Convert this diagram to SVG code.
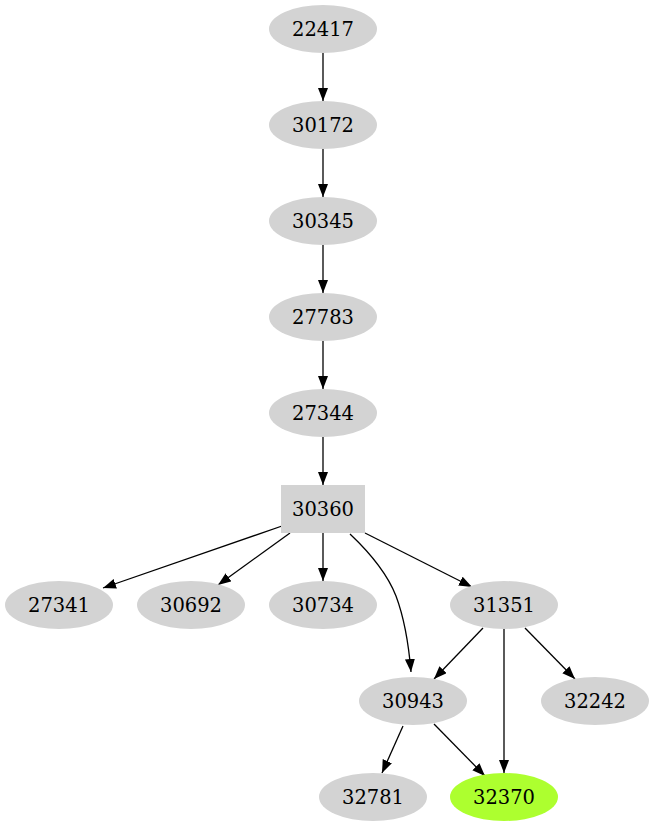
<svg xmlns="http://www.w3.org/2000/svg" width="654" height="827" viewBox="0 0 654 827">
<style>
.n ellipse,.n rect{fill:#d3d3d3;stroke:none}
.g ellipse{fill:#adff2f}
text{font-family:"DejaVu Serif","Liberation Serif",serif;font-size:19.5px;text-anchor:middle;fill:#000}
.e path{fill:none;stroke:#000;stroke-width:1.3}
</style>
<defs>
<marker id="a" markerUnits="userSpaceOnUse" markerWidth="14" markerHeight="11" refX="13" refY="5" orient="auto">
<path d="M0,0 L13,5 L0,10 z" fill="#000"/>
</marker>
</defs>
<rect width="654" height="827" fill="#fff"/>
<g class="e">
<path d="M323,53 L323,101" marker-end="url(#a)"/>
<path d="M323,149 L323,197" marker-end="url(#a)"/>
<path d="M323,245 L323,293" marker-end="url(#a)"/>
<path d="M323,341 L323,389" marker-end="url(#a)"/>
<path d="M323,437 L323,485" marker-end="url(#a)"/>
<path d="M282,526 L103,588" marker-end="url(#a)"/>
<path d="M290,533 L218,585" marker-end="url(#a)"/>
<path d="M323,533 L323,581" marker-end="url(#a)"/>
<path d="M350,534 C368,551 387,573 396,596 C405,620 409,648 411,672" marker-end="url(#a)"/>
<path d="M365,533 L472,587" marker-end="url(#a)"/>
<path d="M483,628 L434,679" marker-end="url(#a)"/>
<path d="M504,629 L504,773" marker-end="url(#a)"/>
<path d="M525,628 L575,679" marker-end="url(#a)"/>
<path d="M403,726 L382,773" marker-end="url(#a)"/>
<path d="M434,724 L485,776" marker-end="url(#a)"/>
</g>
<g id="n22417" class="n"><ellipse cx="323" cy="29" rx="54" ry="24"/><text x="323" y="35.5">22417</text></g>
<g id="n30172" class="n"><ellipse cx="323" cy="125" rx="54" ry="24"/><text x="323" y="131.5">30172</text></g>
<g id="n30345" class="n"><ellipse cx="323" cy="221" rx="54" ry="24"/><text x="323" y="227.5">30345</text></g>
<g id="n27783" class="n"><ellipse cx="323" cy="317" rx="54" ry="24"/><text x="323" y="323.5">27783</text></g>
<g id="n27344" class="n"><ellipse cx="323" cy="413" rx="54" ry="24"/><text x="323" y="419.5">27344</text></g>
<g id="n30360" class="n"><rect x="281" y="485" width="84" height="48"/><text x="323" y="515.5">30360</text></g>
<g id="n27341" class="n"><ellipse cx="59" cy="605" rx="54" ry="24"/><text x="59" y="611.5">27341</text></g>
<g id="n30692" class="n"><ellipse cx="191" cy="605" rx="54" ry="24"/><text x="191" y="611.5">30692</text></g>
<g id="n30734" class="n"><ellipse cx="323" cy="605" rx="54" ry="24"/><text x="323" y="611.5">30734</text></g>
<g id="n31351" class="n"><ellipse cx="504" cy="605" rx="54" ry="24"/><text x="504" y="611.5">31351</text></g>
<g id="n30943" class="n"><ellipse cx="413" cy="701" rx="54" ry="24"/><text x="413" y="707.5">30943</text></g>
<g id="n32242" class="n"><ellipse cx="595" cy="701" rx="54" ry="24"/><text x="595" y="707.5">32242</text></g>
<g id="n32781" class="n"><ellipse cx="373" cy="797" rx="54" ry="24"/><text x="373" y="803.5">32781</text></g>
<g id="n32370" class="n g"><ellipse cx="504" cy="797" rx="54" ry="24"/><text x="504" y="803.5">32370</text></g>
</svg>
